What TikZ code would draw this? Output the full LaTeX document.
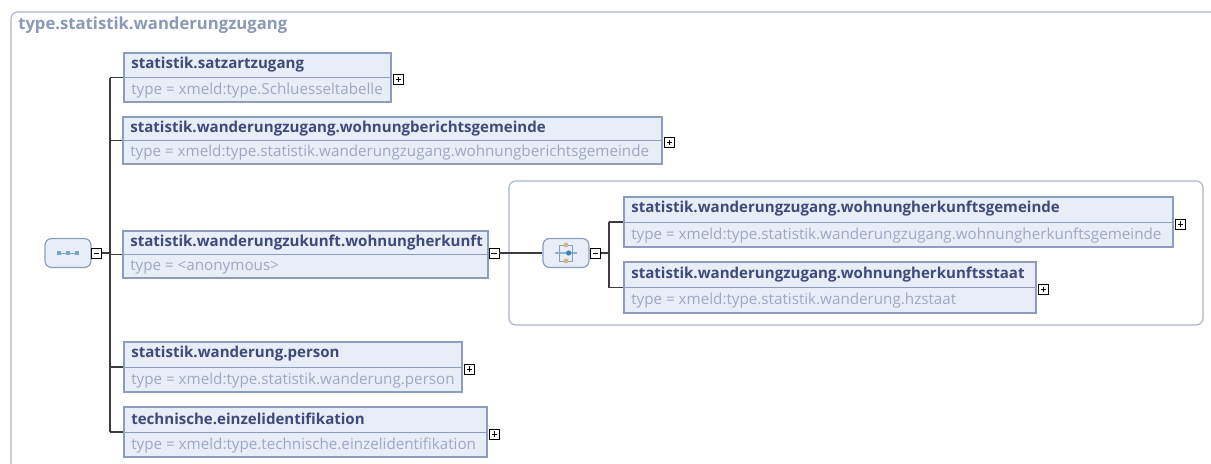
\documentclass[tikz,border=0pt]{standalone}
\usepackage{fontspec}
\setmainfont{Open Sans}
\usepackage{tikz}
\usetikzlibrary{calc}
\definecolor{elfill}{RGB}{232,238,248}
\definecolor{elborder}{RGB}{142,156,190}
\definecolor{elname}{RGB}{62,74,122}
\definecolor{eltype}{RGB}{158,168,196}
\definecolor{framecol}{RGB}{168,180,206}
\definecolor{frametext}{RGB}{138,153,183}
\definecolor{linecol}{RGB}{60,60,60}
\definecolor{iconblue}{RGB}{60,130,190}

\tikzset{
  elbox/.style={draw=elborder, fill=elfill, line width=1.6pt, inner sep=0pt, anchor=north west},
  elname/.style={anchor=west, inner sep=0pt, text=elname, font=\fontsize{11.3}{13}\selectfont\bfseries},
  eltype/.style={anchor=west, inner sep=0pt, text=eltype, font=\fontsize{11.4}{13}\selectfont},
  conn/.style={draw=linecol, line width=1.2pt},
  iconbox/.style={draw=elborder, fill=elfill, rounded corners=5pt, line width=0.9pt, minimum width=34.5pt, minimum height=21.75pt},
  pmbox/.style={draw=black, fill=white, line width=0.6pt, minimum size=7.5pt, inner sep=0pt},
  plus/.style={pmbox, path picture={
      \draw[line width=0.6pt] ([xshift=-2pt]path picture bounding box.center) -- ([xshift=2pt]path picture bounding box.center);
      \draw[line width=0.6pt] ([yshift=-2pt]path picture bounding box.center) -- ([yshift=2pt]path picture bounding box.center);}},
  minus/.style={pmbox, path picture={
      \draw[line width=0.6pt] ([xshift=-2pt]path picture bounding box.center) -- ([xshift=2pt]path picture bounding box.center);}},
}

% element box: name, x, y, width, height, title, type
\newcommand{\xelem}[7]{
  \node[elbox, minimum width=#4*0.75pt, minimum height=#5*0.75pt] (#1) at (#2,#3) {};
  \draw[draw=elborder, line width=0.6pt] ([xshift=0.8pt]#1.west) -- ([xshift=-0.8pt]#1.east);
  \node[elname] (#1-name) at ($([xshift=6pt]#1.north west)!0.25!([xshift=6pt]#1.south west)$) {#6};
  \node[eltype] (#1-type) at ($([xshift=6pt]#1.north west)!0.75!([xshift=6pt]#1.south west)$) {#7};
  \node[plus] (#1-plus) at ([xshift=5pt,yshift=-1.5pt]#1.east) {};
}

\begin{document}
\begin{tikzpicture}[x=0.75pt, y=-0.75pt]
    \useasboundingbox (0,0) rectangle (1211,464);

    % outer frame
    \begin{scope}
        \clip (0,0) rectangle (1211,464);
        \draw[framecol, line width=0.9pt, rounded corners=5pt] (11,12) rectangle (1240,490);
    \end{scope}
    \node[anchor=west, inner sep=0pt, text=frametext, font=\fontsize{12.5}{14}\selectfont\bfseries] (title) at (18,25) {type.statistik.wanderungzugang};

    % sequence
    \node[iconbox] (seq) at (68,253) {};
    \foreach \dx in {-7,0,7}
        \fill[iconblue!70] ([xshift=\dx pt]seq.center) +(-1.6pt,-1.6pt) rectangle +(1.6pt,1.6pt);
    \draw[iconblue!70, line width=0.6pt] ([xshift=-7pt]seq.center) -- ([xshift=7pt]seq.center);
    \node[minus] (seqminus) at (96.5,253) {};

    % children of the sequence
    \xelem{satz}{123}{52}{267}{49}{statistik.satzartzugang}{type = xmeld:type.Schluesseltabelle}
    \xelem{bericht}{122}{116}{539}{47}{statistik.wanderungzugang.wohnungberichtsgemeinde}{type = xmeld:type.statistik.wanderungzugang.wohnungberichtsgemeinde}
    \node[elbox, minimum width=365*0.75pt, minimum height=47*0.75pt] (zukunft) at (122,230) {};
    \draw[draw=elborder, line width=0.6pt] ([xshift=0.8pt]zukunft.west) -- ([xshift=-0.8pt]zukunft.east);
    \node[elname] (zukunft-name) at ($([xshift=6pt]zukunft.north west)!0.25!([xshift=6pt]zukunft.south west)$) {statistik.wanderungzukunft.wohnungherkunft};
    \node[eltype] (zukunft-type) at ($([xshift=6pt]zukunft.north west)!0.75!([xshift=6pt]zukunft.south west)$) {type = <anonymous>};
    \node[minus] (zukunftminus) at (494,253) {};
    \xelem{person}{123}{341}{338}{50}{statistik.wanderung.person}{type = xmeld:type.statistik.wanderung.person}
    \xelem{techn}{123}{406}{363}{50}{technische.einzelidentifikation}{type = xmeld:type.technische.einzelidentifikation}

    \coordinate (spine) at (110,253);
    \draw[conn] (seqminus.east) -- (spine);
    \draw[conn] (spine |- satz.west) -- (spine |- techn.west);
    \foreach \e in {satz,bericht,zukunft,person,techn}
        \draw[conn] (spine |- \e.west) -- (\e.west);

    % anonymous type with choice
    \draw[framecol, line width=0.9pt, rounded corners=5pt] (509,181) rectangle (1203,325);
    \node[iconbox] (choice) at (566,253) {};
    \draw[iconblue!60, line width=0.8pt] ([xshift=-8pt]choice.center) -- ([xshift=8pt]choice.center);
    \draw[elborder, line width=0.7pt] ([xshift=-5pt,yshift=6pt]choice.center) rectangle ([xshift=5pt,yshift=-6pt]choice.center);
    \fill[brown!60] ([yshift=6pt]choice.center) circle (1.8pt);
    \fill[brown!60] ([yshift=-6pt]choice.center) circle (1.8pt);
    \fill[iconblue] ([xshift=2pt]choice.center) circle (2pt);
    \node[minus] (choiceminus) at (595.5,253) {};
    \draw[conn] (zukunftminus.east) -- (choice.west);

    \xelem{hkgem}{623}{196}{549}{50}{statistik.wanderungzugang.wohnungherkunftsgemeinde}{type = xmeld:type.statistik.wanderungzugang.wohnungherkunftsgemeinde}
    \xelem{hkstaat}{623}{261}{412}{51}{statistik.wanderungzugang.wohnungherkunftsstaat}{type = xmeld:type.statistik.wanderung.hzstaat}

    \coordinate (branch) at (609,253);
    \draw[conn] (choiceminus.east) -- (branch);
    \draw[conn] (branch |- hkgem.west) -- (branch |- hkstaat.west);
    \foreach \e in {hkgem,hkstaat}
        \draw[conn] (branch |- \e.west) -- (\e.west);
\end{tikzpicture}
\end{document}
